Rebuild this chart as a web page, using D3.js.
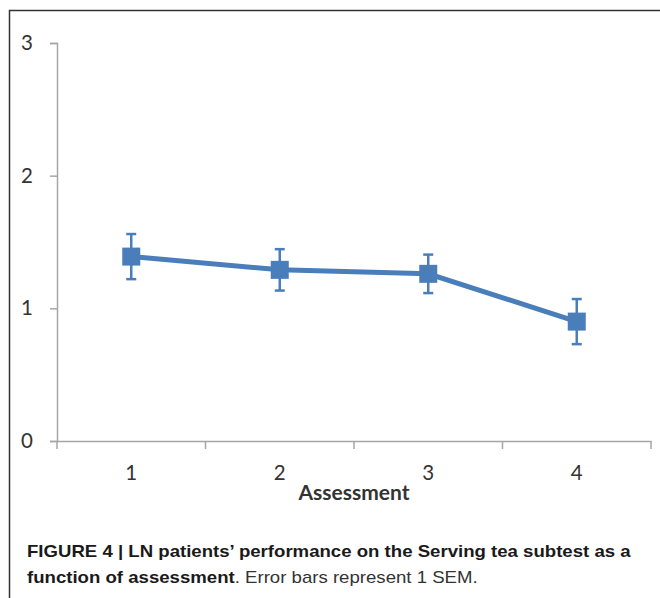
<!DOCTYPE html>
<html><head><meta charset="utf-8">
<script src="https://cdn.jsdelivr.net/npm/d3@7"></script>
<style>body{margin:0;background:#fff}svg{display:block}</style>
</head><body>
<script>
const categories = ["1","2","3","4"];
const means = [1.39, 1.29, 1.26, 0.90];
const sems = [0.17, 0.156, 0.145, 0.17];
const yTicks = [0,1,2,3];
const xTitle = "Assessment";
const caption1 = "FIGURE 4 | LN patients\u2019 performance on the Serving tea subtest as a";
const caption2b = "function of assessment";
const caption2n = ". Error bars represent 1 SEM.";

const W=660,H=598;
const svg=d3.select("body").append("svg").attr("width",W).attr("height",H);
// frame
svg.append("path").attr("d","M9.5,598 V10.5 H660").attr("fill","none").attr("stroke","#333").attr("stroke-width",1.5);

const x=d3.scaleBand().domain(categories).range([57,651]);
const y=d3.scaleLinear().domain([0,3]).range([441,43]);
const axisCol="#a6a6a6";
const font="Lato, 'Open Sans', sans-serif";

// y axis
const ya=svg.append("g").attr("transform","translate(57,0)")
  .call(d3.axisLeft(y).tickValues(yTicks).tickSize(7).tickPadding(17).tickFormat(d3.format("d")));
ya.select(".domain").attr("stroke",axisCol).attr("stroke-width",1.5);
ya.selectAll(".tick line").attr("stroke",axisCol).attr("stroke-width",1.5);
ya.selectAll(".tick text").attr("font-family",font).attr("font-size",20.5).attr("fill","#333");

// x axis
const xa=svg.append("g").attr("transform","translate(0,441)")
  .call(d3.axisBottom(x).tickSize(0).tickPadding(24));
xa.select(".domain").attr("stroke",axisCol).attr("stroke-width",1.5);
xa.selectAll(".tick text").attr("font-family",font).attr("font-size",20.5).attr("fill","#333");
const bounds=categories.map(c=>x(c)).concat([x.range()[1]]);
svg.append("g").selectAll("line").data(bounds).join("line")
  .attr("x1",d=>d).attr("x2",d=>d).attr("y1",441).attr("y2",449)
  .attr("stroke",axisCol).attr("stroke-width",1.5);

svg.append("text").attr("x",(x.range()[0]+x.range()[1])/2).attr("y",500)
  .attr("text-anchor","middle").attr("font-family",font).attr("font-weight","bold")
  .attr("font-size",21).attr("fill","#333").text(xTitle);

const col="#4a7ebb";
const cx=c=>x(c)+x.bandwidth()/2;
const data=categories.map((c,i)=>({c,m:means[i],s:sems[i]}));
// line
svg.append("path").datum(data).attr("fill","none").attr("stroke",col).attr("stroke-width",5)
  .attr("d",d3.line().x(d=>cx(d.c)).y(d=>y(d.m)));
// error bars
const eb=svg.append("g").attr("stroke",col).attr("stroke-width",2.5);
data.forEach(d=>{
  eb.append("line").attr("x1",cx(d.c)).attr("x2",cx(d.c)).attr("y1",y(d.m+d.s)).attr("y2",y(d.m-d.s));
  [d.m+d.s,d.m-d.s].forEach(v=>eb.append("line").attr("x1",cx(d.c)-5).attr("x2",cx(d.c)+5).attr("y1",y(v)).attr("y2",y(v)));
});
// markers
svg.append("g").selectAll("rect").data(data).join("rect")
  .attr("x",d=>cx(d.c)-9).attr("y",d=>y(d.m)-9).attr("width",18).attr("height",18).attr("fill",col);

// caption
const cf="'Liberation Sans', Arial, sans-serif";
const t1=svg.append("text").attr("x",27).attr("y",557).attr("font-family",cf).attr("font-size",16)
  .attr("font-weight","bold").attr("fill","#1a1a1a").text(caption1);
const t2=svg.append("text").attr("x",27).attr("y",583).attr("font-family",cf).attr("font-size",16).attr("fill","#1a1a1a");
t2.append("tspan").attr("font-weight","bold").text(caption2b);
t2.append("tspan").attr("fill","#333").text(caption2n);
// fit widths
const w1=t1.node().getComputedTextLength();
const k=604/w1;
t1.attr("transform",`translate(27,0) scale(${k},1) translate(-27,0)`);
t2.attr("transform",`translate(27,0) scale(${k},1) translate(-27,0)`);
</script>
</body></html>
